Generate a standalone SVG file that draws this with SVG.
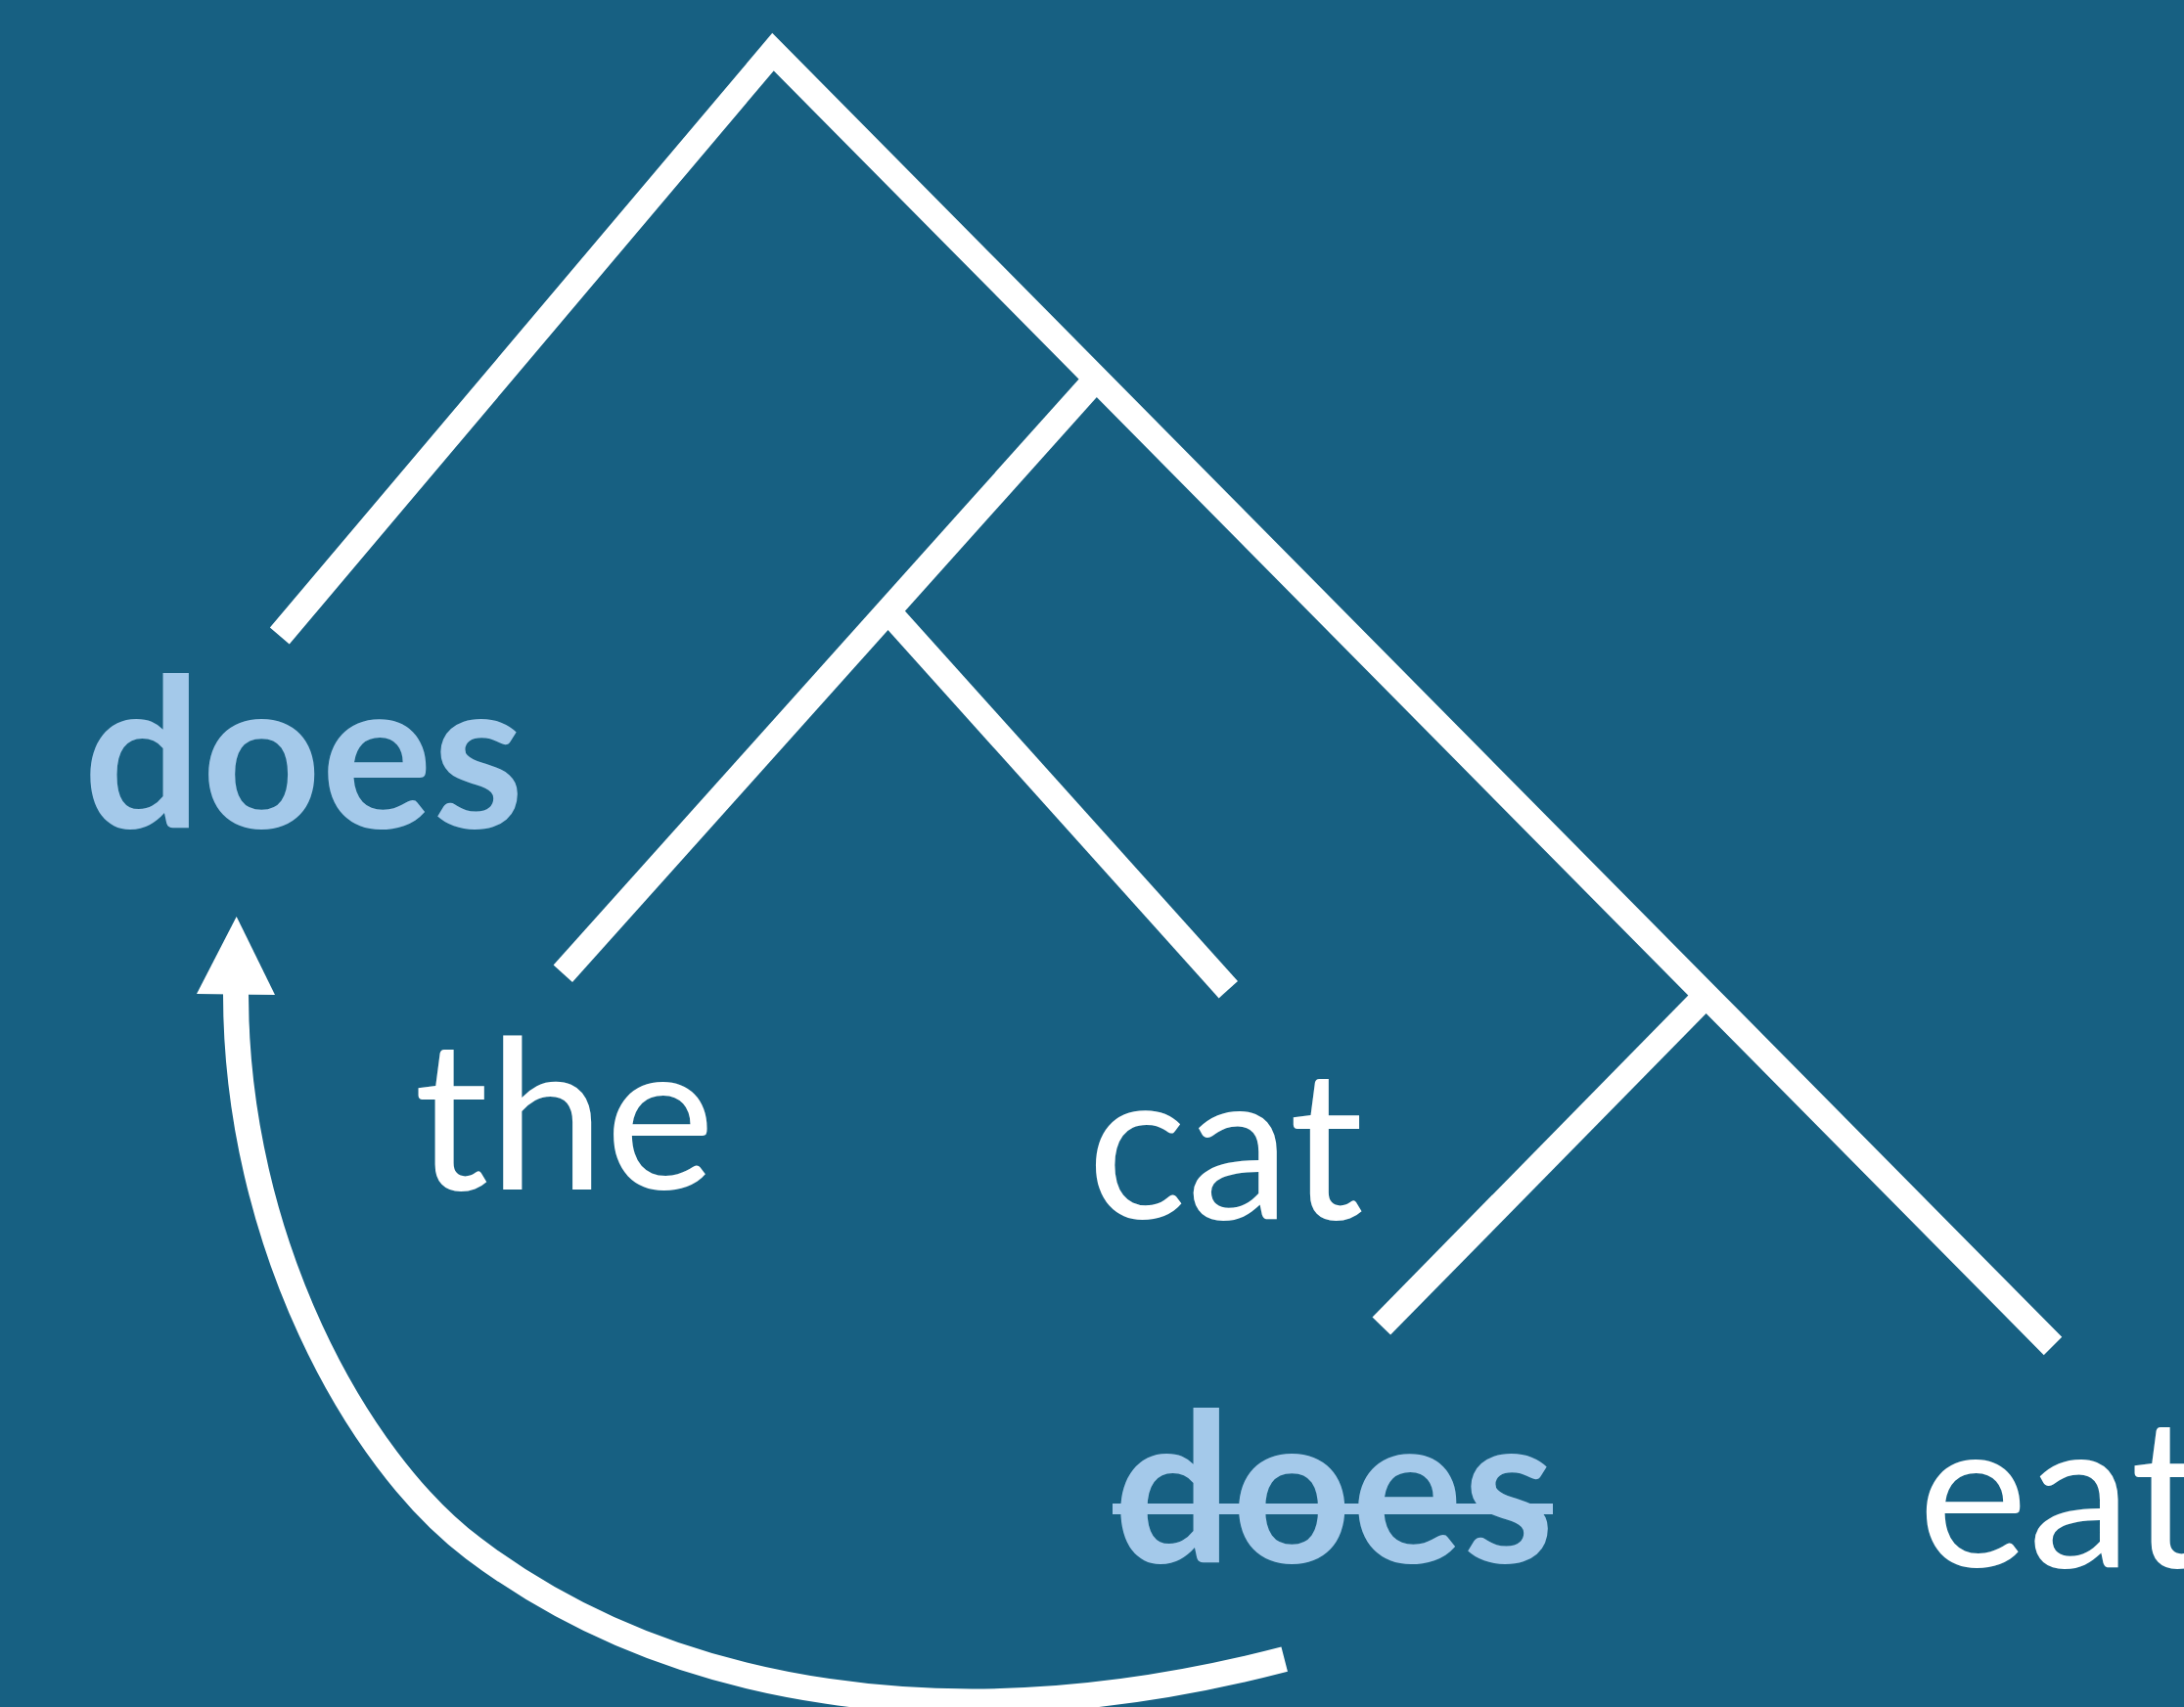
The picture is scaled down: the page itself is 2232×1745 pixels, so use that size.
<svg xmlns="http://www.w3.org/2000/svg" width="2232" height="1745" viewBox="0 0 2232 1745">
<style>
.edge{fill:none;stroke:#ffffff;stroke-width:26;stroke-linecap:butt;stroke-linejoin:miter}
.word{font-family:Lato,"Liberation Sans",sans-serif;font-size:213px;fill:#ffffff}
.moved{fill:#a4c9ea;font-weight:700}
</style>
<rect x="0" y="0" width="2232" height="1745" fill="#176082"/>
<g id="connectors">
<path class="edge" d="M285.8,650 L790,53 L2098,1376"/>
<path class="edge" d="M1119.7,387.9 L575.3,995.3"/>
<path class="edge" d="M907.7,624.9 L1255.3,1011.7"/>
<path class="edge" d="M1744.2,1016.9 L1411.8,1355.5"/>
<path class="edge" d="M1312.7,1696.2 C974,1784 683.5,1733.5 484,1583 C364,1493 241,1267 241,1016"/>
<polygon points="241.7,937 201,1016 281,1017" fill="#ffffff"/>
</g>
<g id="node-does"><text class="word moved" x="85" y="846">does</text></g>
<g id="node-the"><text class="word" x="423" y="1216">the</text></g>
<g id="node-cat"><text class="word" x="1111" y="1246">cat</text></g>
<g id="node-does-trace"><text class="word moved" x="1138" y="1597">does</text><rect x="1137" y="1537" width="450" height="11" fill="#a4c9ea"/></g>
<g id="node-eat"><text class="word" x="1960" y="1602">eat</text></g>
</svg>
